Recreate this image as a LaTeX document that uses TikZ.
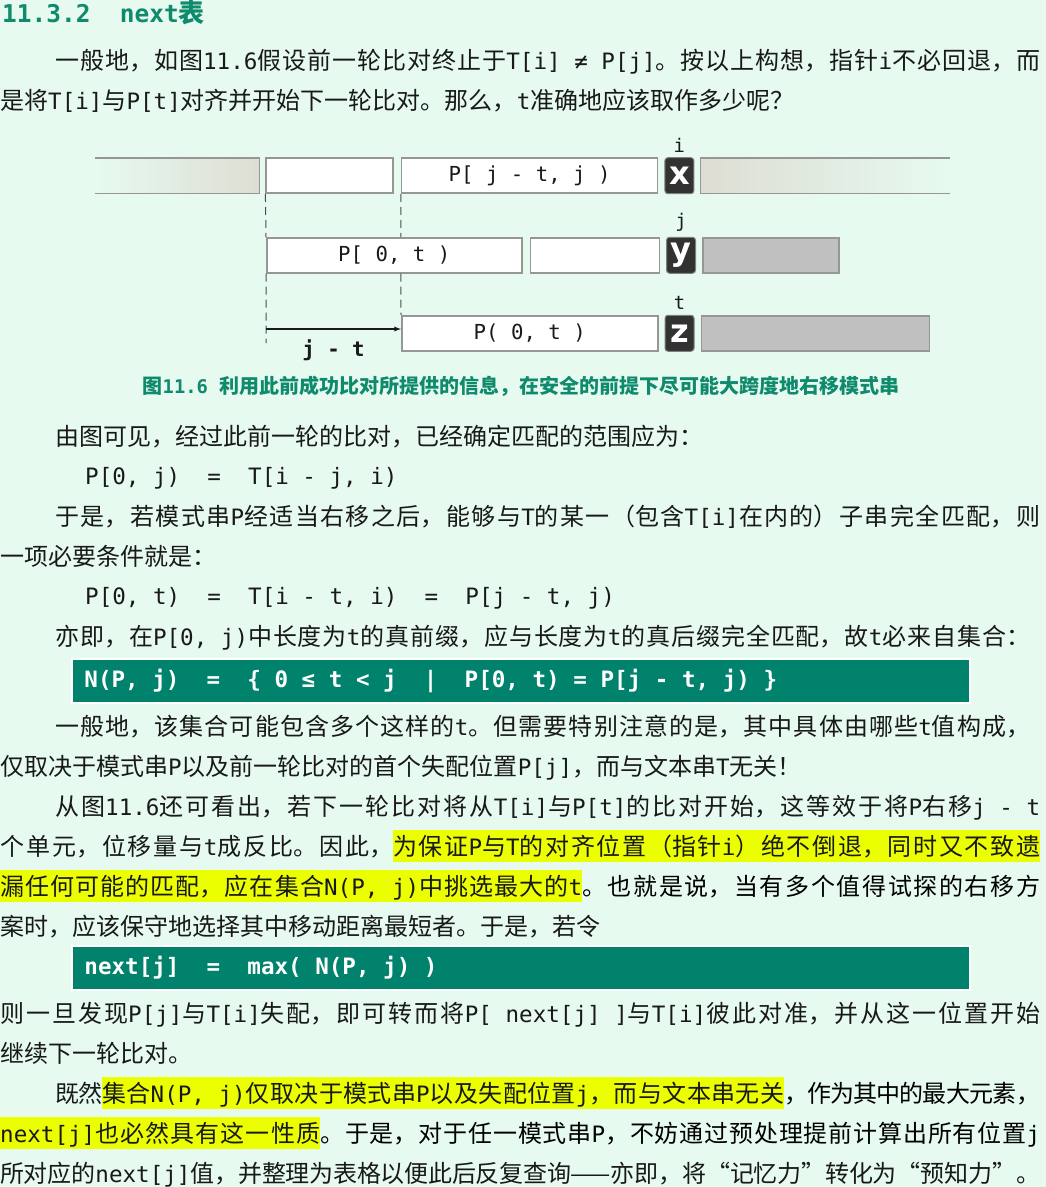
\documentclass[tikz,border=0pt]{standalone}
\usepackage{fontspec}
\setmainfont{Noto Sans CJK SC}
\setmonofont[Scale=0.94]{DejaVu Sans Mono}
\newfontfamily\keyfont{DejaVu Sans}
\usetikzlibrary{arrows,calc,positioning}
\XeTeXlinebreaklocale "zh"
\XeTeXlinebreakskip=0pt plus 4pt minus 1pt
\definecolor{pagebg}{RGB}{230,250,240}
\definecolor{textdark}{RGB}{25,25,25}
\definecolor{headgreen}{RGB}{16,138,108}
\definecolor{boxgreen}{RGB}{0,130,108}
\definecolor{hlyellow}{RGB}{235,255,0}
\definecolor{cellline}{RGB}{150,150,150}
\definecolor{cellgrey}{RGB}{192,192,192}
\definecolor{fadegrey}{RGB}{222,221,211}
\definecolor{keyfill}{RGB}{50,50,50}
\setlength{\fboxsep}{0pt}
\newcommand\hl[2]{\colorbox{hlyellow}{\parbox[b]{#1}{\parfillskip=0pt\rule[-7pt]{0pt}{32pt}#2}}}
\newcommand\jline[2]{\parbox[b]{#1}{\parfillskip=0pt\relax #2}}
\tikzset{
        cell/.style = {draw=cellline, fill=white, rectangle,
            line width=1.5pt, inner sep=0pt,
            minimum height=35pt,
            font=\ttfamily\fontsize{22}{22}\selectfont},
        greycell/.style = {cell, fill=cellgrey},
        fadecell/.style = {rectangle, inner sep=0pt, minimum height=35pt},
        keycell/.style = {draw=gray, fill=keyfill, line width=1pt,
            rounded corners=3pt, inner sep=0pt,
            minimum width=29pt, minimum height=36pt, text=white,
            font=\keyfont\bfseries\fontsize{32}{32}\selectfont},
        ptr/.style = {inner sep=0pt, font=\ttfamily\fontsize{20}{20}\selectfont},
        guide/.style = {draw=black!70, line width=1pt, dash pattern=on 8pt off 5pt},
        movearrow/.style = {draw, -latex, line width=1.3pt},
        textline/.style = {anchor=base west, inner sep=0pt},
        formula/.style = {fill=boxgreen, draw=white, line width=1.5pt,
            minimum width=898pt, minimum height=44pt},
        formulatext/.style = {inner sep=0pt, text=white,
            font=\ttfamily\bfseries},
    }
\begin{document}
\fontsize{24}{40}\selectfont\color{textdark}
\begin{tikzpicture}[x=1pt, y=-1pt]
\useasboundingbox (0,0) rectangle (1046,1187);
\fill[pagebg] (0,0) rectangle (1046,1187);

\node[textline, text=headgreen, font=\bfseries\fontsize{26}{26}\selectfont] (sect) at (2,22) {\texttt{11.3.2~~next}表};
\node[textline] (l1) at (55,69) {\jline{985pt}{一般地，如图\texttt{11.6}假设前一轮比对终止于\texttt{T[i] ≠ P[j]}。按以上构想，指针\texttt{i}不必回退，而}};
\node[textline] (l2) at (0,109) {是将\texttt{T[i]}与\texttt{P[t]}对齐并开始下一轮比对。那么，\texttt{t}准确地应该取作多少呢？};

\node[fadecell, anchor=north west, minimum width=164pt, left color=pagebg, right color=fadegrey] (tl) at (95,158) {};
\node[cell, minimum width=127pt, right=6pt of tl] (t1) {};
\node[cell, minimum width=256pt, right=7pt of t1] (t2) {P[ j - t, j )};
\node[keycell, right=6pt of t2] (kx) {x};
\node[fadecell, minimum width=249pt, right=6pt of kx, left color=fadegrey, right color=pagebg] (tr) {};
\draw[cellline, line width=1.5pt] (tl.north west) -- (tl.north east) -- (tl.south east) -- (tl.south west);
\draw[cellline, line width=1.5pt] (tr.north east) -- (tr.north west) -- (tr.south west) -- (tr.south east);

\node[cell, anchor=north west, minimum width=255pt] (p1) at (266,237) {P[ 0, t )};
\node[cell, minimum width=129pt, right=7pt of p1] (p2) {};
\node[keycell, right=6pt of p2] (ky) {y};
\node[greycell, minimum width=136pt, right=6pt of ky] (pr) {};

\node[cell, anchor=north west, minimum width=256pt] (q1) at (401,315) {P( 0, t )};
\node[keycell, right=6pt of q1] (kz) {z};
\node[greycell, minimum width=228pt, right=6pt of kz] (qr) {};

\node[ptr, above=5pt of kx] (ptri) {i};
\node[ptr, above=5pt of ky] (ptrj) {j};
\node[ptr, above=5pt of kz] (ptrt) {t};

\coordinate (gl) at (266,343);
\coordinate (mstart) at (266,329);
\draw[guide] (t1.south west) -- (p1.north west) (p1.south west) -- (gl);
\draw[guide] (t2.south west) -- (t2.south west |- p1.north) (t2.south west |- p1.south) -- (q1.north west);
\draw[movearrow] (mstart) -- (mstart -| q1.west)
    node[midway, below=10pt, inner sep=0pt, font=\ttfamily\bfseries\fontsize{22}{22}\selectfont] (shiftlabel) {j - t};

\node[anchor=base, inner sep=0pt, text=headgreen, font=\bfseries\fontsize{20}{20}\selectfont] (cap) at (521,393) {图\texttt{11.6~}利用此前成功比对所提供的信息，在安全的前提下尽可能大跨度地右移模式串};

\node[textline] (l3) at (55,445) {由图可见，经过此前一轮的比对，已经确定匹配的范围应为：};
\node[textline] (eq1) at (85,484) {\texttt{P[0, j)~~=~~T[i - j, i)}};
\node[textline] (l4) at (55,525) {\jline{985pt}{于是，若模式串\texttt{P}经适当右移之后，能够与\texttt{T}的某一（包含\texttt{T[i]}在内的）子串完全匹配，则}};
\node[textline] (l5) at (0,565) {一项必要条件就是：};
\node[textline] (eq2) at (85,604) {\texttt{P[0, t)~~=~~T[i - t, i)~~=~~P[j - t, j)}};
\node[textline] (l6) at (55,645) {\jline{975pt}{亦即，在\texttt{P[0, j)}中长度为\texttt{t}的真前缀，应与长度为\texttt{t}的真后缀完全匹配，故\texttt{t}必来自集合：}};
\node[formula] (nbox) at (521,681) {};
\node[formulatext, right=13pt of nbox.west] (nset) {N(P, j)~~=~~\{ 0 ≤ t < j~~|~~P[0, t) = P[j - t, j) \}};
\node[textline] (l7) at (55,735) {\jline{975pt}{一般地，该集合可能包含多个这样的\texttt{t}。但需要特别注意的是，其中具体由哪些\texttt{t}值构成，}};
\node[textline] (l8) at (0,775) {仅取决于模式串\texttt{P}以及前一轮比对的首个失配位置\texttt{P[j]}，而与文本串\texttt{T}无关！};
\node[textline] (l9) at (55,815) {\jline{985pt}{从图\texttt{11.6}还可看出，若下一轮比对将从\texttt{T[i]}与\texttt{P[t]}的比对开始，这等效于将\texttt{P}右移\texttt{j - t}}};
\node[textline] (l10) at (0,855) {\jline{1040pt}{个单元，位移量与\texttt{t}成反比。因此，\hl{647pt}{为保证\texttt{P}与\texttt{T}的对齐位置（指针\texttt{i}）绝不倒退，同时又不致遗}}};
\node[textline] (l11) at (0,895) {\jline{1040pt}{\hl{582pt}{漏任何可能的匹配，应在集合\texttt{N(P, j)}中挑选最大的\texttt{t}}。也就是说，当有多个值得试探的右移方}};
\node[textline] (l12) at (0,935) {案时，应该保守地选择其中移动距离最短者。于是，若令};
\node[formula] (ndefbox) at (521,968) {};
\node[formulatext, right=13pt of ndefbox.west] (nextdef) {next[j]~~=~~max( N(P, j) )};
\node[textline] (l13) at (0,1022) {\jline{1040pt}{则一旦发现\texttt{P[j]}与\texttt{T[i]}失配，即可转而将\texttt{P[ next[j] ]}与\texttt{T[i]}彼此对准，并从这一位置开始}};
\node[textline] (l14) at (0,1062) {继续下一轮比对。};
\node[textline] (l15) at (55,1102) {\jline{985pt}{既然\hl{682pt}{集合\texttt{N(P, j)}仅取决于模式串\texttt{P}以及失配位置\texttt{j}，而与文本串无关}，作为其中的最大元素，}};
\node[textline] (l16) at (0,1142) {\jline{1040pt}{\hl{320pt}{\texttt{next[j]}也必然具有这一性质}。于是，对于任一模式串\texttt{P}，不妨通过预处理提前计算出所有位置\texttt{j}}};
\node[textline] (l17) at (0,1182) {\jline{1040pt}{所对应的\texttt{next[j]}值，并整理为表格以便此后反复查询——亦即，将“记忆力”转化为“预知力”。}};
\end{tikzpicture}
\end{document}
